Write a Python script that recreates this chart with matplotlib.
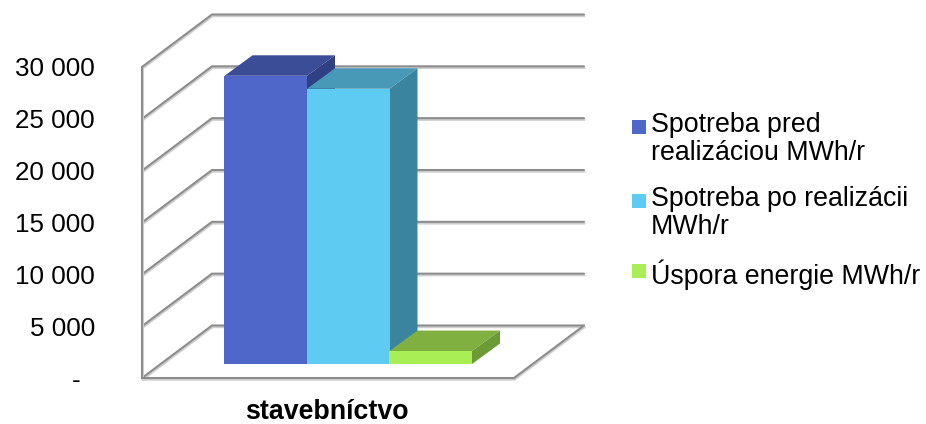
"""3D-style column chart: energy use before and after, stavebnictvo."""
import matplotlib
matplotlib.use("Agg")
import matplotlib.pyplot as plt
import matplotlib.patheffects as pe
from matplotlib.patches import Patch, Polygon

plt.rcParams["font.family"] = ["Liberation Sans", "DejaVu Sans"]

category = "stavebníctvo"
series = ["Spotreba pred\nrealizáciou MWh/r", "Spotreba po realizácii\nMWh/r", "Úspora energie MWh/r"]
values = [27800, 26550, 1250]
ticks = [0, 5000, 10000, 15000, 20000, 25000, 30000]
tick_labels = ["-  ", "5 000", "10 000", "15 000", "20 000", "25 000", "30 000"]

front_colors = ["#4f67c8", "#5ecbf3", "#a9ee55"]
top_colors = ["#3a4d96", "#4899b8", "#80b040"]
side_colors = ["#2f4085", "#3b84a0", "#6c9b35"]
GRID = "#8c8c8c"

W, H = 926, 424
PX_PER_UNIT = 311 / 30000  # vertical pixels per MWh/r
WALL_DX, WALL_DY = 70, 52.5 / PX_PER_UNIT  # back wall offset
BAR_DX, BAR_DY = 28, 20.5 / PX_PER_UNIT  # bar depth
BAR_BASE = 14 / PX_PER_UNIT  # bars stand in from the front of the floor
BAR_W = 82.5

fig = plt.figure(figsize=(W / 100, H / 100), dpi=100)
# axes x units are pixels, y units are the chart's values
left, right, top, bottom = 142, 584, 14, 378
ax = fig.add_axes([left / W, 1 - bottom / H, (right - left) / W, (bottom - top) / H])
ax.set_xlim(left, right)
ax.set_ylim(0, (bottom - top) / PX_PER_UNIT)
for s in ax.spines.values():
    s.set_visible(False)

shadow = [pe.SimpleLineShadow(offset=(0.4, -1.2), shadow_color="#cfcfcf", alpha=1), pe.Normal()]


def grid_line(xs, ys):
    ax.plot(xs, ys, color=GRID, lw=1.5, zorder=1, clip_on=False, path_effects=shadow, solid_capstyle="round")


floor_right = 514
for t in ticks:
    grid_line([left, left + WALL_DX, floor_right + WALL_DX], [t, t + WALL_DY, t + WALL_DY])
grid_line([left, left], [0, ticks[-1]])
grid_line([left, floor_right, floor_right + WALL_DX], [0, 0, WALL_DY])

x0 = 224.5
for i, v in enumerate(values):
    xa = x0 + i * BAR_W
    xb = xa + BAR_W
    y0 = BAR_BASE
    y1 = BAR_BASE + v
    z = 2 + i
    ax.bar(xa, v, BAR_W, bottom=y0, align="edge", color=front_colors[i], zorder=z + 0.2)
    ax.add_patch(Polygon([(xa, y1), (xb, y1), (xb + BAR_DX, y1 + BAR_DY), (xa + BAR_DX, y1 + BAR_DY)],
                         color=top_colors[i], lw=0, zorder=z))
    ax.add_patch(Polygon([(xb, y0), (xb, y1), (xb + BAR_DX, y1 + BAR_DY), (xb + BAR_DX, y0 + BAR_DY)],
                         color=side_colors[i], lw=0, zorder=z))

ax.set_yticks(ticks)
ax.set_yticklabels(tick_labels, fontsize=18.7, color="black")
ax.tick_params(axis="y", length=0, pad=34)
ax.set_xticks([327])
ax.set_xticklabels([category], fontsize=19.3, fontweight="bold")
ax.tick_params(axis="x", length=0, pad=15)

handles = [Patch(color=c, lw=0) for c in front_colors]
leg = fig.legend(handles, series, loc="center left", bbox_to_anchor=(632 / W, 1 - 201 / H), frameon=False,
                 fontsize=19.3, handlelength=0.52, handleheight=0.52, handletextpad=0.19, labelspacing=0.72,
                 borderpad=0, borderaxespad=0)
for txt in leg.get_texts():
    txt.set_linespacing(1.12)
# swatch sits on the first line of a wrapped label
for patch, label in zip(leg.get_patches(), series):
    patch.set_height(10)
    patch.set_y(patch.get_y() + (9.5 if "\n" in label else 3))

fig.savefig("out.png", dpi=100)
